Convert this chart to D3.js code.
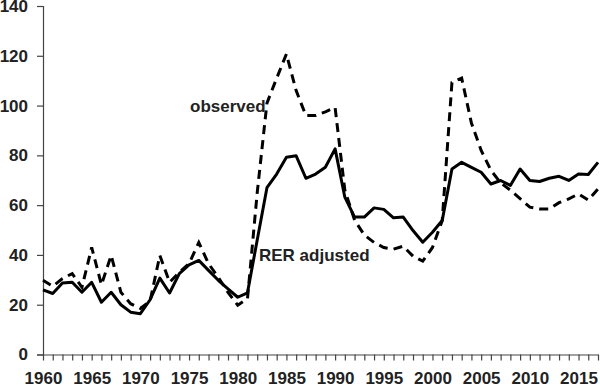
<!DOCTYPE html>
<html>
<head>
<meta charset="utf-8">
<script src="https://cdn.jsdelivr.net/npm/d3@7"></script>
<style>
  body { margin: 0; background: #fff; }
  text { font-family: "Liberation Sans", Arial, sans-serif; font-weight: bold; fill: #222; }
</style>
</head>
<body>
<div id="canvas"></div>
<script>
"use strict"

/* Data */
let years = d3.range(1960, 2018);

let rerAdjusted = [
  26, 24.5, 28.7, 29, 25, 29, 21, 25, 20, 17,
  16.4, 22, 30.7, 24.7, 32.5, 36, 37.8, 33.8, 29.8, 26.4,
  23, 24.8, 46, 67, 72.5, 79.2, 79.8, 70.8, 72.5, 75.2,
  82.6, 63.2, 55.2, 55.2, 58.9, 58.3, 54.9, 55.2, 49.8, 45.1,
  49.1, 53.8, 74.5, 77.2, 75.2, 73.2, 68.5, 69.9, 67.9, 74.5,
  69.9, 69.5, 70.8, 71.6, 69.9, 72.5, 72.3, 77.2
];

let observed = [
  29.8, 27.4, 30.5, 32.5, 27, 43, 28, 39.8, 25, 20.4,
  18.5, 21.5, 39.8, 29, 33, 36.5, 45, 36.5, 31, 25,
  19.8, 22.4, 65, 101, 111, 120.7, 106, 96, 96, 97.5,
  99.2, 66, 54, 48, 45, 43, 42.3, 43.5, 39.5, 37.5,
  43, 53.8, 109.3, 111, 93, 82, 74, 69, 66, 62.6,
  59.2, 58.5, 58.5, 61, 62.5, 64.5, 62, 66.5
];

let yTicks = [0, 20, 40, 60, 80, 100, 120, 140];

/* Drawing setup */
let svgWidth = 600;
let svgHeight = 387;
let plotLeft = 43, plotRight = 598, plotTop = 6, plotBottom = 354.5;
let axisColor = "#444";
let fontSize = 17;

let svg = d3.select("#canvas")
    .append("svg")
    .attr("width", svgWidth)
    .attr("height", svgHeight);

let xScale = d3.scaleLinear()
    .domain([1960, 2017])
    .range([plotLeft, plotRight]);

let yScale = d3.scaleLinear()
    .domain([0, 140])
    .range([plotBottom, plotTop]);

/* y axis */
let yAxis = svg.append("g")
    .attr("transform", "translate(" + plotLeft + ",0)")
    .call(d3.axisLeft(yScale).tickValues(yTicks).tickSize(6).tickPadding(9));
yAxis.select(".domain").attr("stroke", axisColor).attr("stroke-width", 1.2);
yAxis.selectAll(".tick line").attr("stroke", axisColor).attr("stroke-width", 1.2);
yAxis.selectAll("text")
    .attr("font-size", fontSize)
    .attr("fill", "#222")
    .style("font-family", "Liberation Sans, Arial, sans-serif")
    .style("font-weight", "bold");

/* x axis, tick at every year, label every 5 */
let xAxis = svg.append("g")
    .attr("transform", "translate(0," + plotBottom + ")")
    .call(d3.axisBottom(xScale)
        .tickValues(years)
        .tickSize(6)
        .tickSizeOuter(0)
        .tickPadding(11)
        .tickFormat(function (d) { return d % 5 == 0 ? d : ""; }));
xAxis.select(".domain").attr("stroke", axisColor).attr("stroke-width", 1.2);
xAxis.selectAll(".tick line").attr("stroke", axisColor).attr("stroke-width", 1.2);
xAxis.selectAll("text")
    .attr("font-size", fontSize)
    .attr("fill", "#222")
    .style("font-family", "Liberation Sans, Arial, sans-serif")
    .style("font-weight", "bold");

/* lines */
let line = function (values) {
    return d3.line()
        .x(function (d, i) { return xScale(years[i]); })
        .y(function (d) { return yScale(d); })(values);
};

svg.append("path")
    .attr("d", line(observed))
    .attr("fill", "none")
    .attr("stroke", "#000")
    .attr("stroke-width", 3)
    .attr("stroke-dasharray", "9,6");

svg.append("path")
    .attr("d", line(rerAdjusted))
    .attr("fill", "none")
    .attr("stroke", "#000")
    .attr("stroke-width", 3)
    .attr("stroke-linejoin", "round");

/* in-chart labels */
svg.append("text")
    .attr("x", 190)
    .attr("y", 112)
    .attr("font-size", fontSize)
    .text("observed");

svg.append("text")
    .attr("x", 259)
    .attr("y", 261)
    .attr("font-size", fontSize)
    .text("RER adjusted");
</script>
</body>
</html>
